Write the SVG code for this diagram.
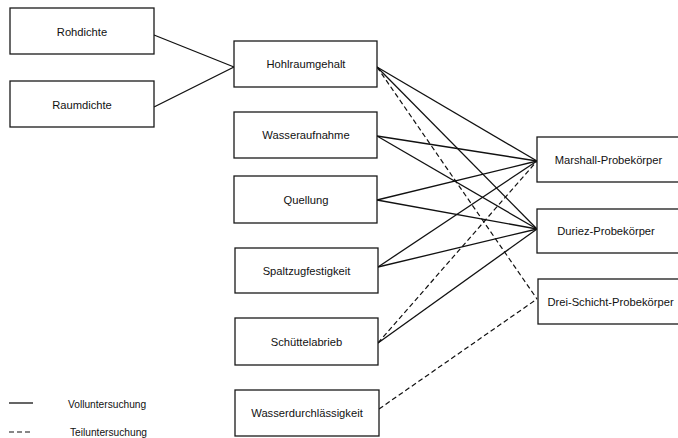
<svg xmlns="http://www.w3.org/2000/svg" width="678" height="438" viewBox="0 0 678 438">
<style>
.box{fill:#fff;stroke:#1a1a1a;stroke-width:1.3}
.t{font-family:"Liberation Sans",Arial,sans-serif;font-size:11.2px;fill:#111;text-anchor:middle}
.lg{font-family:"Liberation Sans",Arial,sans-serif;font-size:10.2px;fill:#111}
.s{stroke:#111;stroke-width:1.3;fill:none}
.d{stroke:#111;stroke-width:1.2;fill:none;stroke-dasharray:5,3}
</style>
<rect width="678" height="438" fill="#fff"/>
<g id="connectors">
<line class="s" x1="154" y1="35" x2="234" y2="67"/>
<line class="s" x1="154" y1="107" x2="234" y2="67"/>
<line class="s" x1="377" y1="67" x2="537" y2="161"/>
<line class="s" x1="377" y1="67" x2="537" y2="229"/>
<line class="d" x1="377" y1="67" x2="537" y2="299"/>
<line class="s" x1="377" y1="136" x2="537" y2="161"/>
<line class="s" x1="377" y1="136" x2="537" y2="229"/>
<line class="s" x1="377" y1="200" x2="537" y2="161"/>
<line class="s" x1="377" y1="200" x2="537" y2="229"/>
<line class="s" x1="378" y1="267" x2="537" y2="161"/>
<line class="s" x1="378" y1="267" x2="537" y2="229"/>
<line class="s" x1="378" y1="343" x2="537" y2="229"/>
<line class="d" x1="378" y1="343" x2="537" y2="161"/>
<line class="d" x1="379" y1="409" x2="537" y2="299"/>
</g>
<g id="rohdichte"><rect class="box" x="10" y="8" width="144" height="46"/><text class="t" x="82" y="35.5">Rohdichte</text></g>
<g id="raumdichte"><rect class="box" x="10" y="81" width="144" height="46"/><text class="t" x="82" y="108.5">Raumdichte</text></g>
<g id="hohlraumgehalt"><rect class="box" x="234" y="41" width="143" height="46"/><text class="t" x="306" y="68">Hohlraumgehalt</text></g>
<g id="wasseraufnahme"><rect class="box" x="234" y="112" width="143" height="46"/><text class="t" x="306" y="139">Wasseraufnahme</text></g>
<g id="quellung"><rect class="box" x="234" y="176" width="143" height="47"/><text class="t" x="306" y="203.5">Quellung</text></g>
<g id="spaltzugfestigkeit"><rect class="box" x="235" y="248" width="143" height="45"/><text class="t" x="306.5" y="274.5">Spaltzugfestigkeit</text></g>
<g id="schuettelabrieb"><rect class="box" x="235" y="318" width="143" height="47"/><text class="t" x="306.5" y="345.5">Schüttelabrieb</text></g>
<g id="wasserdurchlaessigkeit"><rect class="box" x="235" y="390" width="144" height="46"/><text class="t" x="307" y="417">Wasserdurchlässigkeit</text></g>
<g id="marshall"><rect class="box" x="537" y="137" width="145" height="45"/><text class="t" x="608.5" y="163.5">Marshall-Probekörper</text></g>
<g id="duriez"><rect class="box" x="537" y="209" width="145" height="44"/><text class="t" x="606" y="235">Duriez-Probekörper</text></g>
<g id="dreischicht"><rect class="box" x="538" y="279" width="145" height="45"/><text class="t" x="610.5" y="305.5">Drei-Schicht-Probekörper</text></g>
<g id="legend">
<line class="s" x1="9" y1="403" x2="33" y2="403"/>
<text class="lg" x="68" y="407.5">Volluntersuchung</text>
<line class="d" x1="9" y1="432" x2="33" y2="432" stroke-dasharray="5,3.5"/>
<text class="lg" x="70" y="436">Teiluntersuchung</text>
</g>
</svg>
